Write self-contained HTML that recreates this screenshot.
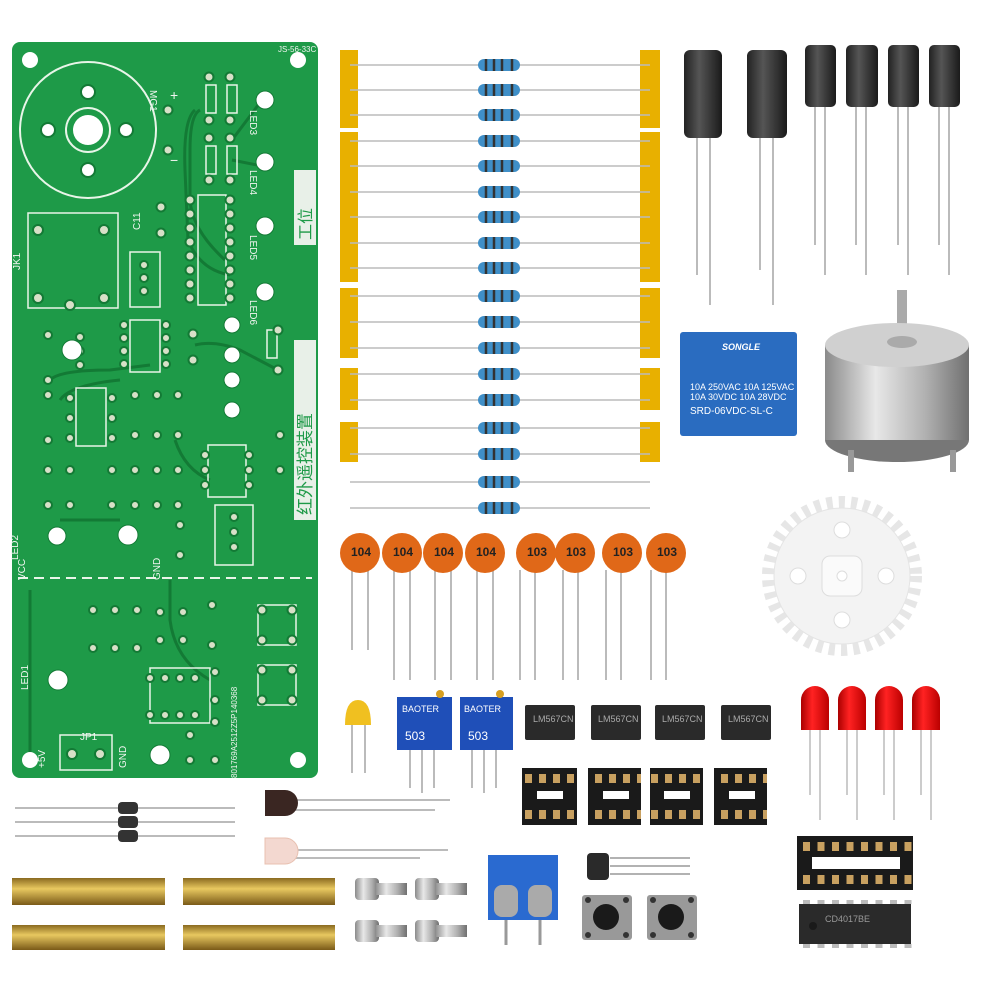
<!DOCTYPE html>
<html><head><meta charset="utf-8">
<style>
html,body{margin:0;padding:0;background:#fff;}
svg{display:block}
text{font-family:"Liberation Sans","Noto Sans CJK SC",sans-serif}
</style></head>
<body>
<svg width="1000" height="1000" viewBox="0 0 1000 1000" xmlns="http://www.w3.org/2000/svg">
<defs>
<linearGradient id="cyl" x1="0" x2="1"><stop offset="0" stop-color="#222"/><stop offset=".4" stop-color="#555"/><stop offset="1" stop-color="#1a1a1a"/></linearGradient>
<linearGradient id="metal" x1="0" x2="1"><stop offset="0" stop-color="#8a8a8a"/><stop offset=".35" stop-color="#e8e8e8"/><stop offset=".7" stop-color="#b0b0b0"/><stop offset="1" stop-color="#707070"/></linearGradient>
<linearGradient id="brass" x1="0" y1="0" x2="0" y2="1"><stop offset="0" stop-color="#8a6a20"/><stop offset=".4" stop-color="#e8c860"/><stop offset="1" stop-color="#7a5a18"/></linearGradient>
<linearGradient id="red" x1="0" x2="1"><stop offset="0" stop-color="#a00"/><stop offset=".4" stop-color="#f22"/><stop offset="1" stop-color="#b00"/></linearGradient>
<pattern id="pins8" width="14" height="57" patternUnits="userSpaceOnUse" x="4" y="768"><rect x="3" y="6" width="7" height="9" fill="#c8a060"/><rect x="3" y="42" width="7" height="9" fill="#c8a060"/></pattern>
<pattern id="pins16" width="14.5" height="54" patternUnits="userSpaceOnUse" x="800" y="836"><rect x="3" y="6" width="7" height="9" fill="#c8a060"/><rect x="3" y="39" width="7" height="9" fill="#c8a060"/></pattern>
<pattern id="legs16" width="14.5" height="50" patternUnits="userSpaceOnUse" x="800" y="900"><rect x="3" y="0" width="7" height="4" fill="#bbb"/><rect x="3" y="44" width="7" height="4" fill="#bbb"/></pattern>
</defs>

<!-- PCB -->
<rect x="12" y="42" width="306" height="736" rx="8" fill="#1e9a48"/>
<g fill="none" stroke="#137a35" stroke-width="3">
<path d="M200 110 Q190 115 190 150 L190 200 Q192 230 225 260"/>
<path d="M195 110 Q183 120 185 170 L188 240 Q200 270 230 275"/>
<path d="M232 140 L262 100"/><path d="M232 160 L262 166"/>
<path d="M195 345 Q215 340 240 350 L278 370"/>
<path d="M50 380 Q60 370 110 370 L150 365"/>
<path d="M60 400 Q70 385 120 380"/>
<path d="M175 440 Q185 470 210 480"/>
<path d="M30 590 L30 760"/>
<path d="M170 580 L170 620 Q175 660 210 680"/>
<path d="M60 520 L120 520"/>
</g>
<g fill="#fff"><circle cx="30" cy="60" r="8"/><circle cx="298" cy="60" r="8"/><circle cx="30" cy="760" r="8"/><circle cx="298" cy="760" r="8"/></g>
<circle cx="88" cy="130" r="68" fill="none" stroke="#e8f5e8" stroke-width="2"/>
<circle cx="88" cy="130" r="22" fill="none" stroke="#e8f5e8" stroke-width="2"/><circle cx="88" cy="130" r="15" fill="#fff"/>
<g fill="#fff" stroke="#137a35" stroke-width="2"><circle cx="88" cy="92" r="7"/><circle cx="88" cy="170" r="7"/><circle cx="48" cy="130" r="7"/><circle cx="126" cy="130" r="7"/></g>
<g fill="none" stroke="#e8f5e8" stroke-width="1.5">
<rect x="28" y="213" width="90" height="95"/>
<rect x="130" y="252" width="30" height="55"/>
<rect x="198" y="195" width="28" height="110"/>
<rect x="130" y="320" width="30" height="52"/>
<rect x="76" y="388" width="30" height="58"/>
<rect x="208" y="445" width="38" height="52"/>
<rect x="215" y="505" width="38" height="60"/>
<rect x="150" y="668" width="60" height="55"/>
<rect x="258" y="605" width="38" height="40"/>
<rect x="258" y="665" width="38" height="40"/>
<rect x="60" y="735" width="52" height="35"/>
<rect x="206" y="85" width="10" height="28"/><rect x="227" y="85" width="10" height="28"/>
<rect x="206" y="146" width="10" height="28"/><rect x="227" y="146" width="10" height="28"/>
<rect x="267" y="330" width="10" height="28"/>
</g>
<line x1="18" y1="578" x2="312" y2="578" stroke="#e8f5e8" stroke-width="2" stroke-dasharray="10,6"/>
<g fill="#d8e0c8" stroke="#137a35" stroke-width="2">
<circle cx="190" cy="200" r="4.5"/><circle cx="190" cy="214" r="4.5"/><circle cx="190" cy="228" r="4.5"/><circle cx="190" cy="242" r="4.5"/><circle cx="190" cy="256" r="4.5"/><circle cx="190" cy="270" r="4.5"/><circle cx="190" cy="284" r="4.5"/><circle cx="190" cy="298" r="4.5"/>
<circle cx="230" cy="200" r="4.5"/><circle cx="230" cy="214" r="4.5"/><circle cx="230" cy="228" r="4.5"/><circle cx="230" cy="242" r="4.5"/><circle cx="230" cy="256" r="4.5"/><circle cx="230" cy="270" r="4.5"/><circle cx="230" cy="284" r="4.5"/><circle cx="230" cy="298" r="4.5"/>
<circle cx="209" cy="77" r="4.5"/><circle cx="230" cy="77" r="4.5"/><circle cx="209" cy="120" r="4.5"/><circle cx="230" cy="120" r="4.5"/>
<circle cx="209" cy="138" r="4.5"/><circle cx="230" cy="138" r="4.5"/><circle cx="209" cy="180" r="4.5"/><circle cx="230" cy="180" r="4.5"/>
<circle cx="168" cy="110" r="4.5"/><circle cx="168" cy="150" r="4.5"/>
<circle cx="38" cy="230" r="5"/><circle cx="104" cy="230" r="5"/><circle cx="38" cy="298" r="5"/><circle cx="104" cy="298" r="5"/><circle cx="70" cy="305" r="5"/>
<circle cx="144" cy="265" r="4"/><circle cx="144" cy="278" r="4"/><circle cx="144" cy="291" r="4"/>
<circle cx="161" cy="207" r="4.5"/><circle cx="161" cy="233" r="4.5"/>
<circle cx="124" cy="325" r="4"/><circle cx="124" cy="338" r="4"/><circle cx="124" cy="351" r="4"/><circle cx="124" cy="364" r="4"/>
<circle cx="166" cy="325" r="4"/><circle cx="166" cy="338" r="4"/><circle cx="166" cy="351" r="4"/><circle cx="166" cy="364" r="4"/>
<circle cx="48" cy="335" r="4"/><circle cx="48" cy="380" r="4"/><circle cx="80" cy="337" r="4"/><circle cx="80" cy="351" r="4"/><circle cx="80" cy="365" r="4"/>
<circle cx="193" cy="334" r="4.5"/><circle cx="193" cy="360" r="4.5"/><circle cx="278" cy="330" r="4.5"/><circle cx="278" cy="370" r="4.5"/>
<circle cx="70" cy="398" r="4"/><circle cx="70" cy="418" r="4"/><circle cx="70" cy="438" r="4"/><circle cx="112" cy="398" r="4"/><circle cx="112" cy="418" r="4"/><circle cx="112" cy="438" r="4"/>
<circle cx="48" cy="395" r="4"/><circle cx="48" cy="440" r="4"/>
<circle cx="135" cy="395" r="4"/><circle cx="135" cy="435" r="4"/><circle cx="157" cy="395" r="4"/><circle cx="157" cy="435" r="4"/><circle cx="178" cy="395" r="4"/><circle cx="178" cy="435" r="4"/>
<circle cx="48" cy="470" r="4"/><circle cx="48" cy="505" r="4"/><circle cx="70" cy="470" r="4"/><circle cx="70" cy="505" r="4"/><circle cx="112" cy="470" r="4"/><circle cx="112" cy="505" r="4"/><circle cx="135" cy="470" r="4"/><circle cx="135" cy="505" r="4"/><circle cx="157" cy="470" r="4"/><circle cx="157" cy="505" r="4"/><circle cx="178" cy="470" r="4"/><circle cx="178" cy="505" r="4"/>
<circle cx="205" cy="455" r="4"/><circle cx="205" cy="470" r="4"/><circle cx="205" cy="485" r="4"/><circle cx="249" cy="455" r="4"/><circle cx="249" cy="470" r="4"/><circle cx="249" cy="485" r="4"/>
<circle cx="234" cy="517" r="4"/><circle cx="234" cy="532" r="4"/><circle cx="234" cy="547" r="4"/>
<circle cx="180" cy="525" r="4"/><circle cx="180" cy="555" r="4"/><circle cx="280" cy="435" r="4"/><circle cx="280" cy="470" r="4"/>
<circle cx="93" cy="610" r="4"/><circle cx="93" cy="648" r="4"/><circle cx="115" cy="610" r="4"/><circle cx="115" cy="648" r="4"/><circle cx="137" cy="610" r="4"/><circle cx="137" cy="648" r="4"/><circle cx="160" cy="612" r="4"/><circle cx="160" cy="640" r="4"/><circle cx="183" cy="612" r="4"/><circle cx="183" cy="640" r="4"/><circle cx="212" cy="605" r="4"/><circle cx="212" cy="645" r="4"/>
<circle cx="150" cy="678" r="4"/><circle cx="165" cy="678" r="4"/><circle cx="180" cy="678" r="4"/><circle cx="195" cy="678" r="4"/><circle cx="150" cy="715" r="4"/><circle cx="165" cy="715" r="4"/><circle cx="180" cy="715" r="4"/><circle cx="195" cy="715" r="4"/>
<circle cx="215" cy="672" r="4"/><circle cx="215" cy="700" r="4"/><circle cx="215" cy="722" r="4"/><circle cx="215" cy="760" r="4"/>
<circle cx="190" cy="735" r="4"/><circle cx="190" cy="760" r="4"/>
<circle cx="262" cy="610" r="4.5"/><circle cx="292" cy="610" r="4.5"/><circle cx="262" cy="640" r="4.5"/><circle cx="292" cy="640" r="4.5"/>
<circle cx="262" cy="670" r="4.5"/><circle cx="292" cy="670" r="4.5"/><circle cx="262" cy="700" r="4.5"/><circle cx="292" cy="700" r="4.5"/>
<circle cx="72" cy="754" r="5"/><circle cx="100" cy="754" r="5"/>
</g>
<g fill="#fff" stroke="#137a35" stroke-width="1">
<circle cx="265" cy="100" r="9"/><circle cx="265" cy="162" r="9"/><circle cx="265" cy="226" r="9"/><circle cx="265" cy="292" r="9"/>
<circle cx="72" cy="350" r="10"/><circle cx="128" cy="535" r="10"/><circle cx="232" cy="325" r="8"/><circle cx="232" cy="355" r="8"/><circle cx="232" cy="380" r="8"/><circle cx="232" cy="410" r="8"/><circle cx="58" cy="680" r="10"/><circle cx="160" cy="755" r="10"/><circle cx="57" cy="536" r="9"/></g>
<g fill="#f0f5f0" font-size="10">
<text x="150" y="90" transform="rotate(90 150 90)">MG1</text>
<text x="170" y="100" font-size="14">+</text><text x="170" y="165" font-size="14">−</text>
<text x="20" y="270" transform="rotate(-90 20 270)">JK1</text>
<text x="140" y="230" transform="rotate(-90 140 230)">C11</text>
<text x="250" y="110" transform="rotate(90 250 110)">LED3</text>
<text x="250" y="170" transform="rotate(90 250 170)">LED4</text>
<text x="250" y="235" transform="rotate(90 250 235)">LED5</text>
<text x="250" y="300" transform="rotate(90 250 300)">LED6</text>
<text x="18" y="560" transform="rotate(-90 18 560)">LED2</text>
<text x="28" y="690" transform="rotate(-90 28 690)">LED1</text>
<text x="25" y="580" transform="rotate(-90 25 580)">VCC</text>
<text x="160" y="580" transform="rotate(-90 160 580)">GND</text>
<text x="45" y="768" transform="rotate(-90 45 768)">+5V</text>
<text x="126" y="768" transform="rotate(-90 126 768)">GND</text>
<text x="80" y="740">JP1</text>
<text x="237" y="778" font-size="8" transform="rotate(-90 237 778)">801769A2512Z5P140368</text>
<text x="278" y="52" font-size="8">JS-56-33C</text>
</g>
<rect x="294" y="170" width="22" height="75" fill="#e8f0e8"/>
<text x="311" y="240" font-size="16" fill="#1e9a48" transform="rotate(-90 311 240)">工位</text>
<rect x="294" y="340" width="22" height="180" fill="#e8f0e8"/>
<text x="311" y="515" font-size="17" fill="#1e9a48" transform="rotate(-90 311 515)">红外遥控装置</text>

<!-- resistor tapes -->
<g fill="#e8b000">
<rect x="340" y="50" width="18" height="78"/><rect x="340" y="132" width="18" height="150"/><rect x="340" y="288" width="18" height="70"/><rect x="340" y="368" width="18" height="42"/><rect x="340" y="422" width="18" height="40"/>
<rect x="640" y="50" width="20" height="78"/><rect x="640" y="132" width="20" height="150"/><rect x="640" y="288" width="20" height="70"/><rect x="640" y="368" width="20" height="42"/><rect x="640" y="422" width="20" height="40"/>
</g>
<g stroke="#bbb" stroke-width="1.5">
<line x1="350" y1="65" x2="650" y2="65"/><line x1="350" y1="90" x2="650" y2="90"/><line x1="350" y1="115" x2="650" y2="115"/><line x1="350" y1="141" x2="650" y2="141"/><line x1="350" y1="166" x2="650" y2="166"/><line x1="350" y1="192" x2="650" y2="192"/><line x1="350" y1="217" x2="650" y2="217"/><line x1="350" y1="243" x2="650" y2="243"/><line x1="350" y1="268" x2="650" y2="268"/><line x1="350" y1="296" x2="650" y2="296"/><line x1="350" y1="322" x2="650" y2="322"/><line x1="350" y1="348" x2="650" y2="348"/><line x1="350" y1="374" x2="650" y2="374"/><line x1="350" y1="400" x2="650" y2="400"/><line x1="350" y1="428" x2="650" y2="428"/><line x1="350" y1="454" x2="650" y2="454"/><line x1="350" y1="482" x2="650" y2="482"/><line x1="350" y1="508" x2="650" y2="508"/>
</g>
<g fill="#3f8fc8">
<rect x="478" y="59" width="42" height="12" rx="6"/><rect x="478" y="84" width="42" height="12" rx="6"/><rect x="478" y="109" width="42" height="12" rx="6"/><rect x="478" y="135" width="42" height="12" rx="6"/><rect x="478" y="160" width="42" height="12" rx="6"/><rect x="478" y="186" width="42" height="12" rx="6"/><rect x="478" y="211" width="42" height="12" rx="6"/><rect x="478" y="237" width="42" height="12" rx="6"/><rect x="478" y="262" width="42" height="12" rx="6"/><rect x="478" y="290" width="42" height="12" rx="6"/><rect x="478" y="316" width="42" height="12" rx="6"/><rect x="478" y="342" width="42" height="12" rx="6"/><rect x="478" y="368" width="42" height="12" rx="6"/><rect x="478" y="394" width="42" height="12" rx="6"/><rect x="478" y="422" width="42" height="12" rx="6"/><rect x="478" y="448" width="42" height="12" rx="6"/><rect x="478" y="476" width="42" height="12" rx="6"/><rect x="478" y="502" width="42" height="12" rx="6"/>
</g>
<g stroke="#333" stroke-width="2.5">
<path d="M486 59v12M494 59v12M502 59v12M512 59v12 M486 84v12M494 84v12M502 84v12M512 84v12 M486 109v12M494 109v12M502 109v12M512 109v12 M486 135v12M494 135v12M502 135v12M512 135v12 M486 160v12M494 160v12M502 160v12M512 160v12 M486 186v12M494 186v12M502 186v12M512 186v12 M486 211v12M494 211v12M502 211v12M512 211v12 M486 237v12M494 237v12M502 237v12M512 237v12 M486 262v12M494 262v12M502 262v12M512 262v12 M486 290v12M494 290v12M502 290v12M512 290v12 M486 316v12M494 316v12M502 316v12M512 316v12 M486 342v12M494 342v12M502 342v12M512 342v12 M486 368v12M494 368v12M502 368v12M512 368v12 M486 394v12M494 394v12M502 394v12M512 394v12 M486 422v12M494 422v12M502 422v12M512 422v12 M486 448v12M494 448v12M502 448v12M512 448v12 M486 476v12M494 476v12M502 476v12M512 476v12 M486 502v12M494 502v12M502 502v12M512 502v12"/>
</g>

<!-- electrolytic caps -->
<g stroke="#bbb" stroke-width="2">
<line x1="697" y1="135" x2="697" y2="275"/><line x1="710" y1="135" x2="710" y2="305"/>
<line x1="760" y1="135" x2="760" y2="270"/><line x1="773" y1="135" x2="773" y2="305"/>
<line x1="815" y1="105" x2="815" y2="245"/><line x1="825" y1="105" x2="825" y2="275"/>
<line x1="856" y1="105" x2="856" y2="245"/><line x1="866" y1="105" x2="866" y2="275"/>
<line x1="898" y1="105" x2="898" y2="245"/><line x1="908" y1="105" x2="908" y2="275"/>
<line x1="939" y1="105" x2="939" y2="245"/><line x1="949" y1="105" x2="949" y2="275"/>
</g>
<g fill="url(#cyl)">
<rect x="684" y="50" width="38" height="88" rx="6"/><rect x="747" y="50" width="40" height="88" rx="6"/>
<rect x="805" y="45" width="31" height="62" rx="5"/><rect x="846" y="45" width="32" height="62" rx="5"/><rect x="888" y="45" width="31" height="62" rx="5"/><rect x="929" y="45" width="31" height="62" rx="5"/>
</g>

<!-- relay -->
<rect x="680" y="332" width="117" height="104" rx="3" fill="#2a6cc0"/>
<g fill="#fff" font-size="9">
<text x="722" y="350" font-weight="bold" font-style="italic">SONGLE</text>
<text x="690" y="390">10A 250VAC 10A 125VAC</text>
<text x="690" y="400">10A  30VDC 10A  28VDC</text>
<text x="690" y="414" font-size="10">SRD-06VDC-SL-C</text>
</g>

<!-- motor -->
<rect x="897" y="290" width="10" height="50" fill="#aaa"/>
<ellipse cx="897" cy="440" rx="72" ry="22" fill="#777"/>
<rect x="825" y="345" width="144" height="95" fill="url(#metal)"/>
<ellipse cx="897" cy="345" rx="72" ry="22" fill="#d0d0d0"/>
<ellipse cx="902" cy="342" rx="15" ry="6" fill="#aaa"/>
<rect x="848" y="450" width="6" height="22" fill="#999"/><rect x="950" y="450" width="6" height="22" fill="#999"/>

<!-- gear -->
<circle cx="842" cy="576" r="72" fill="none" stroke="#e6e6e6" stroke-dasharray="6,6" stroke-width="16"/>
<circle cx="842" cy="576" r="68" fill="#f3f3f3" stroke="#e4e4e4"/>
<rect x="822" y="556" width="40" height="40" rx="8" fill="#fafafa" stroke="#ddd"/>
<g fill="#fff" stroke="#ddd"><circle cx="842" cy="530" r="8"/><circle cx="842" cy="620" r="8"/><circle cx="798" cy="576" r="8"/><circle cx="886" cy="576" r="8"/><circle cx="842" cy="576" r="5"/></g>

<!-- ceramic caps -->
<g stroke="#bbb" stroke-width="2">
<path d="M352 570v80M368 570v80 M394 570v110M410 570v110 M435 570v110M451 570v110 M477 570v110M493 570v110 M520 570v110M535 570v110 M563 570v110M578 570v110 M606 570v110M621 570v110 M651 570v110M666 570v110"/>
</g>
<g fill="#e06818">
<circle cx="360" cy="553" r="20"/><circle cx="402" cy="553" r="20"/><circle cx="443" cy="553" r="20"/><circle cx="485" cy="553" r="20"/><circle cx="536" cy="553" r="20"/><circle cx="575" cy="553" r="20"/><circle cx="622" cy="553" r="20"/><circle cx="666" cy="553" r="20"/>
</g>
<g font-size="12" fill="#222" font-weight="bold">
<text x="351" y="556">104</text><text x="393" y="556">104</text><text x="434" y="556">104</text><text x="476" y="556">104</text><text x="527" y="556">103</text><text x="566" y="556">103</text><text x="613" y="556">103</text><text x="657" y="556">103</text>
</g>

<!-- yellow cap -->
<path d="M352 725v48M365 725v48" stroke="#bbb" stroke-width="2"/>
<path d="M345 725 q0 -25 13 -25 q13 0 13 25z" fill="#f0c020"/>

<!-- pots -->
<path d="M410 748v40M422 748v45M434 748v40 M472 748v40M484 748v45M496 748v40" stroke="#bbb" stroke-width="2"/>
<rect x="397" y="697" width="55" height="53" fill="#1f4fb8"/><rect x="460" y="697" width="53" height="53" fill="#1f4fb8"/>
<circle cx="440" cy="694" r="4" fill="#d8a020"/><circle cx="500" cy="694" r="4" fill="#d8a020"/>
<g fill="#fff" font-size="9"><text x="402" y="712">BAOTER</text><text x="464" y="712">BAOTER</text><text x="405" y="740" font-size="12">503</text><text x="468" y="740" font-size="12">503</text></g>

<!-- LM567 -->
<g fill="#2a2a2a">
<rect x="525" y="705" width="50" height="35" rx="2"/><rect x="591" y="705" width="50" height="35" rx="2"/><rect x="655" y="705" width="50" height="35" rx="2"/><rect x="721" y="705" width="50" height="35" rx="2"/>
</g>
<g fill="#aaa" font-size="9"><text x="533" y="722">LM567CN</text><text x="598" y="722">LM567CN</text><text x="662" y="722">LM567CN</text><text x="728" y="722">LM567CN</text></g>
<g fill="#1a1a1a">
<rect x="522" y="768" width="55" height="57"/><rect x="588" y="768" width="53" height="57"/><rect x="650" y="768" width="53" height="57"/><rect x="714" y="768" width="53" height="57"/>
</g>
<g fill="url(#pins8)"><rect x="522" y="768" width="55" height="57"/><rect x="588" y="768" width="53" height="57"/><rect x="650" y="768" width="53" height="57"/><rect x="714" y="768" width="53" height="57"/></g>
<g fill="#fff"><rect x="537" y="791" width="26" height="8"/><rect x="603" y="791" width="26" height="8"/><rect x="664" y="791" width="26" height="8"/><rect x="729" y="791" width="26" height="8"/></g>

<!-- red LEDs -->
<path d="M810 725v70M820 725v95 M847 725v70M857 725v95 M884 725v70M894 725v95 M921 725v70M931 725v95" stroke="#ccc" stroke-width="2"/>
<g fill="url(#red)">
<path d="M801 730v-30a14 14 0 0 1 28 0v30z"/><path d="M838 730v-30a14 14 0 0 1 28 0v30z"/><path d="M875 730v-30a14 14 0 0 1 28 0v30z"/><path d="M912 730v-30a14 14 0 0 1 28 0v30z"/>
</g>

<!-- 16 pin -->
<rect x="797" y="836" width="116" height="54" fill="#1a1a1a"/>
<rect x="797" y="836" width="116" height="54" fill="url(#pins16)"/>
<rect x="812" y="857" width="88" height="12" fill="#fff"/>
<rect x="797" y="900" width="116" height="50" fill="url(#legs16)"/>
<rect x="799" y="904" width="112" height="40" fill="#2a2a2a"/>
<circle cx="813" cy="926" r="4" fill="#1a1a1a"/>
<text x="825" y="922" fill="#999" font-size="9">CD4017BE</text>

<!-- diodes -->
<path d="M15 808h220M15 822h220M15 836h220" stroke="#bbb" stroke-width="2"/>
<g fill="#333"><rect x="118" y="802" width="20" height="12" rx="4"/><rect x="118" y="816" width="20" height="12" rx="4"/><rect x="118" y="830" width="20" height="12" rx="4"/></g>

<!-- LEDs -->
<path d="M290 800h160M290 810h145 M290 850h158M290 858h130" stroke="#bbb" stroke-width="2"/>
<path d="M265 790h20a13 13 0 0 1 0 26h-20z" fill="#3a2622"/>
<path d="M265 838h20a13 13 0 0 1 0 26h-20z" fill="#f3d8d0" stroke="#e8c0b0"/>

<!-- standoffs -->
<g fill="url(#brass)">
<rect x="12" y="878" width="153" height="27"/><rect x="12" y="925" width="153" height="25"/><rect x="183" y="878" width="152" height="27"/><rect x="183" y="925" width="152" height="25"/>
</g>

<!-- screws -->
<g fill="url(#metal)">
<rect x="355" y="878" width="24" height="22" rx="4"/><rect x="375" y="883" width="32" height="12"/>
<rect x="415" y="878" width="24" height="22" rx="4"/><rect x="435" y="883" width="32" height="12"/>
<rect x="355" y="920" width="24" height="22" rx="4"/><rect x="375" y="925" width="32" height="12"/>
<rect x="415" y="920" width="24" height="22" rx="4"/><rect x="435" y="925" width="32" height="12"/>
</g>

<!-- terminal block -->
<rect x="488" y="855" width="70" height="65" fill="#2a6ad0"/>
<rect x="494" y="885" width="24" height="32" rx="8" fill="#aaa"/><rect x="528" y="885" width="24" height="32" rx="8" fill="#aaa"/>
<path d="M506 920v25M540 920v25" stroke="#999" stroke-width="3"/>

<!-- transistor -->
<path d="M610 858h80M610 866h80M610 874h80" stroke="#999" stroke-width="1.5"/>
<rect x="587" y="853" width="22" height="27" rx="4" fill="#2a2a2a"/>

<!-- buttons -->
<rect x="582" y="895" width="50" height="45" rx="3" fill="#999"/><circle cx="606" cy="917" r="13" fill="#1a1a1a"/>
<rect x="647" y="895" width="50" height="45" rx="3" fill="#999"/><circle cx="671" cy="917" r="13" fill="#1a1a1a"/>
<g fill="#333"><circle cx="588" cy="900" r="3"/><circle cx="626" cy="900" r="3"/><circle cx="588" cy="935" r="3"/><circle cx="626" cy="935" r="3"/><circle cx="653" cy="900" r="3"/><circle cx="691" cy="900" r="3"/><circle cx="653" cy="935" r="3"/><circle cx="691" cy="935" r="3"/></g>
</svg>
</body></html>
